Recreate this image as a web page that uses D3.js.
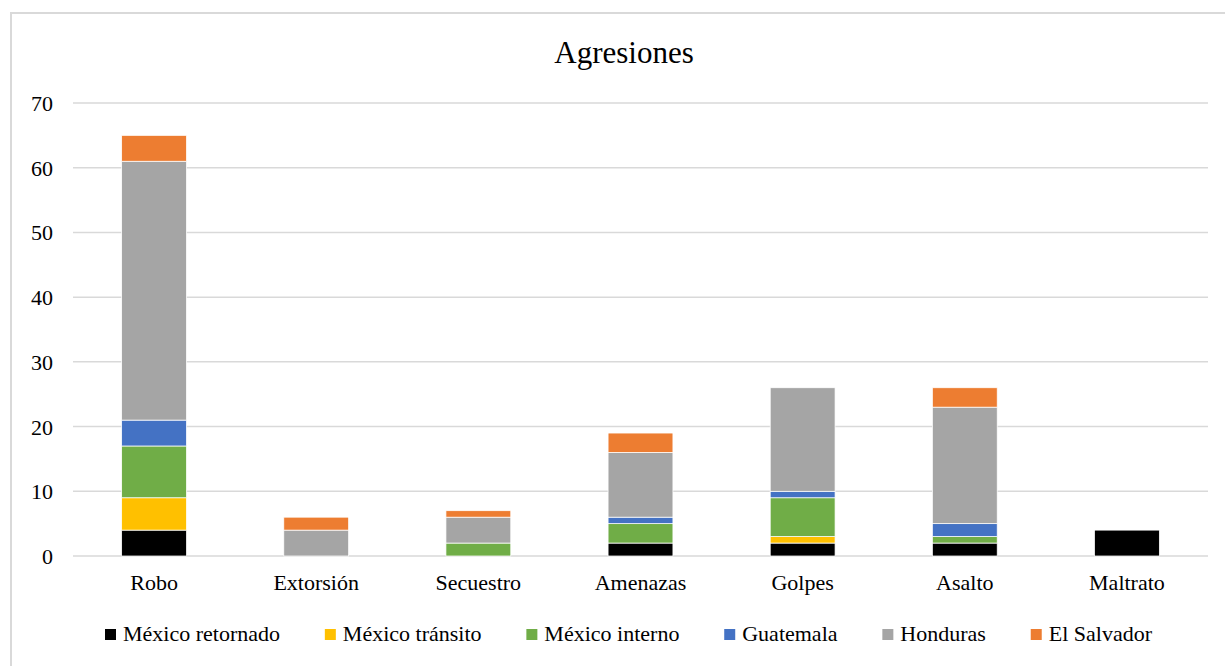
<!DOCTYPE html>
<html>
<head>
<meta charset="utf-8">
<script src="https://cdn.jsdelivr.net/npm/d3@7"></script>
<style>
  html, body { margin: 0; padding: 0; background: #fff; }
  svg { display: block; }
</style>
</head>
<body>
<svg id="chart" width="1225" height="666"></svg>
<script>
// Aggression types reported, stacked by migrant origin group
const categories = ["Robo", "Extorsión", "Secuestro", "Amenazas", "Golpes", "Asalto", "Maltrato"];
const seriesNames = ["México retornado", "México tránsito", "México interno", "Guatemala", "Honduras", "El Salvador"];
const seriesColors = ["#000000", "#ffc000", "#70ad47", "#4472c4", "#a5a5a5", "#ed7d31"];

const mexicoRetornado = [4, 0, 0, 2, 2, 2, 4];
const mexicoTransito  = [5, 0, 0, 0, 1, 0, 0];
const mexicoInterno   = [8, 0, 2, 3, 6, 1, 0];
const guatemala       = [4, 0, 0, 1, 1, 2, 0];
const honduras        = [40, 4, 4, 10, 16, 18, 0];
const elSalvador      = [4, 2, 1, 3, 0, 3, 0];

const yTicks = [0, 10, 20, 30, 40, 50, 60, 70];

const seriesValues = [mexicoRetornado, mexicoTransito, mexicoInterno, guatemala, honduras, elSalvador];

const FONT = '"Liberation Serif", Tinos, "Times New Roman", Times, "Nimbus Roman", "Noto Serif", "DejaVu Serif", FreeSerif, serif';

const rows = categories.map((c, i) => {
  const r = { category: c };
  seriesNames.forEach((s, j) => { r[s] = seriesValues[j][i]; });
  return r;
});

const svg = d3.select("#chart");
const W = 1225, H = 666;

// outer frame
svg.append("rect")
  .attr("x", 11).attr("y", 13)
  .attr("width", W - 11 + 5).attr("height", H - 13 + 5)
  .attr("fill", "none").attr("stroke", "#d9d9d9").attr("stroke-width", 2);

const plot = { left: 73, right: 1208, top: 103, bottom: 556 };

const x = d3.scaleBand()
  .domain(categories)
  .range([plot.left, plot.right])
  .paddingInner(0.6)
  .paddingOuter(0.3);

const y = d3.scaleLinear().domain([0, 70]).range([plot.bottom, plot.top]);

// title
svg.append("text")
  .attr("x", 624).attr("y", 63)
  .attr("text-anchor", "middle")
  .style("font-family", FONT)
  .style("font-size", "31px")
  .attr("fill", "#000")
  .text("Agresiones");

// gridlines
svg.append("g")
  .selectAll("line")
  .data(yTicks)
  .join("line")
  .attr("x1", plot.left).attr("x2", plot.right)
  .attr("y1", d => y(d)).attr("y2", d => y(d))
  .attr("stroke", "#d9d9d9").attr("stroke-width", 1.5);

// y axis labels
const yAxis = d3.axisLeft(y).tickValues(yTicks).tickSize(0).tickPadding(0);
const gy = svg.append("g").attr("transform", `translate(53,0)`).call(yAxis);
gy.attr("font-family", null);
gy.select(".domain").remove();
gy.selectAll("text")
  .style("font-family", FONT)
  .style("font-size", "22px").attr("fill", "#000").attr("dy", "0.34em");

// x axis labels
const xAxis = d3.axisBottom(x).tickSize(0).tickPadding(0);
const gx = svg.append("g").attr("transform", `translate(0,${plot.bottom + 18})`).call(xAxis);
gx.attr("font-family", null);
gx.select(".domain").remove();
gx.selectAll("text")
  .style("font-family", FONT)
  .style("font-size", "22px").attr("fill", "#000").attr("dy", "0.71em");

// stacked bars
const stack = d3.stack().keys(seriesNames);
const stacked = stack(rows);

svg.append("g")
  .selectAll("g")
  .data(stacked)
  .join("g")
  .attr("fill", (d, i) => seriesColors[i])
  .selectAll("rect")
  .data(d => d.filter(p => p[1] - p[0] > 0))
  .join("rect")
  .attr("x", d => x(d.data.category))
  .attr("width", x.bandwidth())
  .attr("y", d => y(d[1]))
  .attr("height", d => y(d[0]) - y(d[1]))
  .attr("stroke", "#ffffff").attr("stroke-width", 0.75);

// legend: spread across a fixed span below the plot
const legendLeft = 105, legendRight = 1152;
const legend = svg.append("g");
const items = legend.selectAll("g")
  .data(seriesNames)
  .join("g");
items.append("rect")
  .attr("width", 11).attr("height", 11)
  .attr("y", -12)
  .attr("fill", (d, i) => seriesColors[i]);
items.append("text")
  .attr("x", 18).attr("y", 0)
  .style("font-family", FONT)
  .style("font-size", "22px")
  .attr("fill", "#000")
  .text(d => d);

let widths = [];
items.each(function() {
  widths.push(18 + this.querySelector("text").getComputedTextLength());
});
const gap = (legendRight - legendLeft - d3.sum(widths)) / (widths.length - 1);
let cx = legendLeft;
items.attr("transform", (d, i) => {
  const t = `translate(${cx},641)`;
  cx += widths[i] + gap;
  return t;
});
</script>
</body>
</html>
